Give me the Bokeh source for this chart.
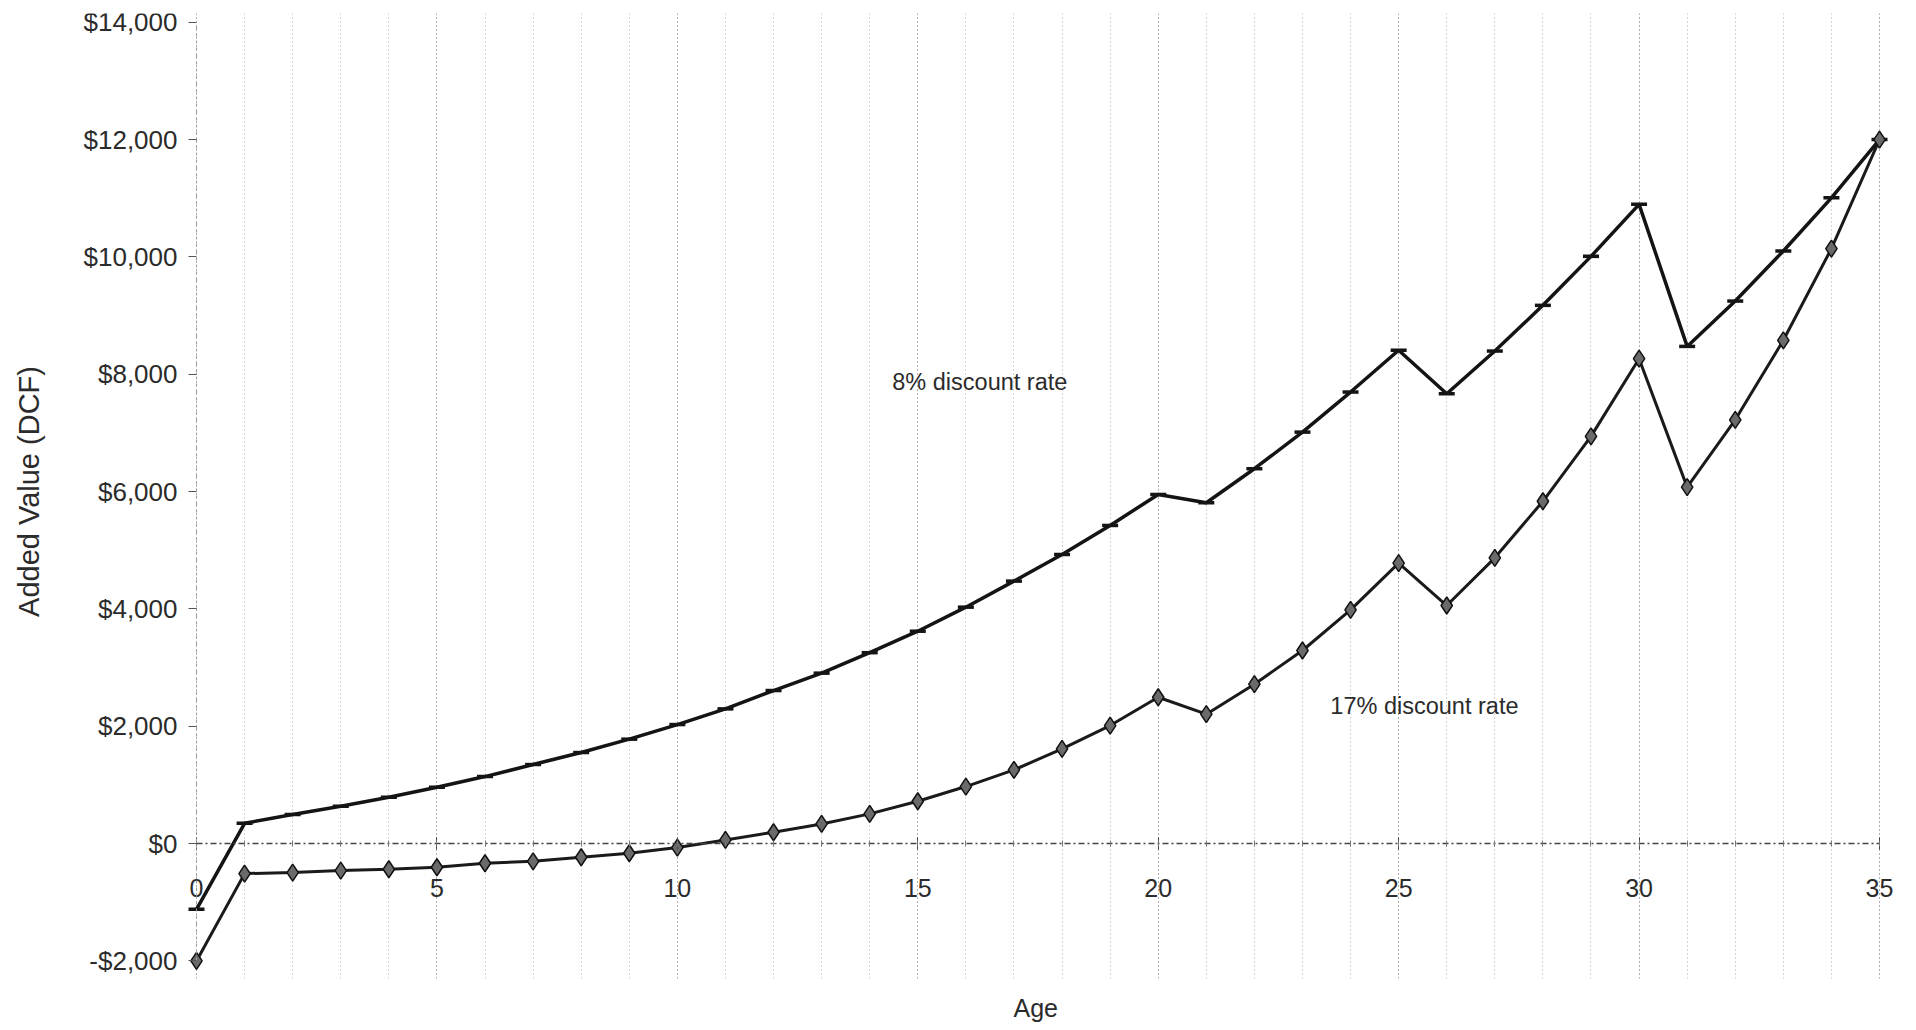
from bokeh.plotting import figure
from bokeh.models import Range1d, FixedTicker, NumeralTickFormatter, Label, Title
from bokeh.embed import file_html
from bokeh.resources import INLINE

# ---- data ----
ages = list(range(36))
dcf_8pct = [-1120, 346, 495, 636, 790, 960, 1142, 1347, 1552, 1780, 2029, 2296, 2609, 2905,
            3254, 3620, 4030, 4474, 4928, 5423, 5951, 5810, 6390, 7014, 7697, 8410, 7668,
            8396, 9175, 10010, 10897, 8475, 9248, 10102, 11008, 12000]
dcf_17pct = [-2000, -512, -495, -460, -438, -404, -336, -302, -233, -165, -68, 62, 193, 335,
             506, 722, 972, 1256, 1614, 2012, 2495, 2206, 2717, 3291, 3985, 4780, 4058, 4871,
             5835, 6941, 8266, 6076, 7224, 8579, 10142, 12000]
x_ticks = [0, 5, 10, 15, 20, 25, 30, 35]
y_ticks = [-2000, 0, 2000, 4000, 6000, 8000, 10000, 12000, 14000]
series_labels = ["8% discount rate", "17% discount rate"]
label_pos_x = [14.47, 23.58]
label_pos_y = [7863, 2342]
x_title = "Age"
y_title = "Added Value (DCF)"

FONT = "Liberation Sans"
TXT = "#2b2b2b"

p = figure(frame_width=1888, frame_height=965,
           x_range=Range1d(-3.868, 35.395), y_range=Range1d(-2300, 14150),
           output_backend="svg", toolbar_location=None,
           min_border_left=10, min_border_right=18, min_border_top=13, min_border_bottom=52,
           background_fill_color="white", border_fill_color="white")
p.outline_line_color = None

xticker = FixedTicker(ticks=x_ticks, minor_ticks=ages)

# vertical dotted grid at every age
p.xgrid.ticker = xticker
p.xgrid.grid_line_color = "#6e6e6e"
p.xgrid.grid_line_dash = "1 3"
p.xgrid.grid_line_alpha = 0.7
p.xgrid.minor_grid_line_color = "#6e6e6e"
p.xgrid.minor_grid_line_dash = "1 3"
p.xgrid.minor_grid_line_alpha = 0.6
p.ygrid.visible = False

# x axis crossing at $0
xa = p.xaxis[0]
xa.fixed_location = 0
xa.bounds = (0, 35)
xa.ticker = xticker
xa.axis_line_color = "#444444"
xa.axis_line_dash = "6 3 2 3"
xa.axis_line_width = 1.5
xa.major_tick_in = 6
xa.major_tick_out = 6
xa.major_tick_line_color = "#444444"
xa.minor_tick_in = 3
xa.minor_tick_out = 3
xa.minor_tick_line_color = "#777777"
xa.major_label_standoff = 29
xa.major_label_text_font = FONT
xa.major_label_text_font_size = "25px"
xa.major_label_text_color = TXT

# y axis at age 0
ya = p.yaxis[0]
ya.fixed_location = 0
ya.bounds = (-2000, 14000)
ya.ticker = FixedTicker(ticks=y_ticks, minor_ticks=[])
ya.formatter = NumeralTickFormatter(format="$0,0")
ya.axis_line_color = "#9a9a9a"
ya.axis_line_dash = "3 4"
ya.major_tick_in = 0
ya.major_tick_out = 8
ya.major_tick_line_color = "#555555"
ya.major_label_standoff = 11
ya.major_label_text_font = FONT
ya.major_label_text_font_size = "26px"
ya.major_label_text_color = TXT
ya.axis_label = y_title
ya.axis_label_text_font = FONT
ya.axis_label_text_font_size = "29px"
ya.axis_label_text_font_style = "normal"
ya.axis_label_text_color = TXT
ya.axis_label_standoff = 36

# series
p.line(ages, dcf_8pct, line_color="#141414", line_width=3.5)
p.scatter(ages, dcf_8pct, marker="dash", size=16, line_color="#141414", line_width=3.5)

p.line(ages, dcf_17pct, line_color="#1a1a1a", line_width=3)
p.scatter(ages, dcf_17pct, marker="diamond", size=17, fill_color="#6a6a6a",
          line_color="#111111", line_width=1.5)

# inline series labels
for t, lx, ly in zip(series_labels, label_pos_x, label_pos_y):
    p.add_layout(Label(x=lx, y=ly, text=t, text_font=FONT, text_font_size="23.5px",
                       text_color=TXT, text_baseline="middle", text_align="left"))

p.add_layout(Title(text=x_title, align="left", offset=1003, text_font=FONT,
                   text_font_size="25px", text_font_style="normal", text_color=TXT,
                   standoff=26), "below")

open("out.html", "w").write(file_html(p, INLINE))
